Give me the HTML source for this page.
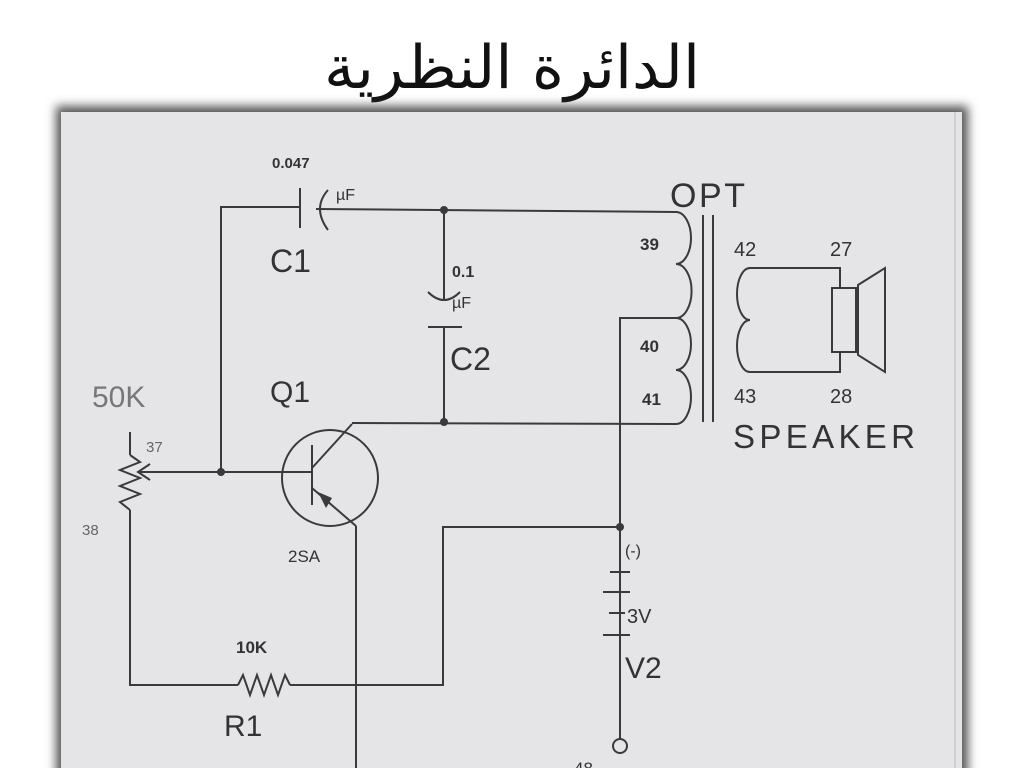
<!DOCTYPE html>
<html><head><meta charset="utf-8"><style>
html,body{margin:0;padding:0;background:#fff;width:1024px;height:768px;overflow:hidden}
</style></head><body>
<svg width="1024" height="768" viewBox="0 0 1024 768" xmlns="http://www.w3.org/2000/svg">
<defs>
<filter id="sh" x="-5%" y="-5%" width="110%" height="110%"><feGaussianBlur stdDeviation="5"/></filter>
</defs>
<text x="512" y="88" text-anchor="middle" font-family="DejaVu Sans, sans-serif" font-size="60" fill="#111" textLength="376" lengthAdjust="spacingAndGlyphs">الدائرة النظرية</text>
<rect x="56" y="106" width="912" height="680" fill="#555" filter="url(#sh)"/>
<rect x="61" y="112" width="901" height="660" fill="#e5e4e7"/>
<line x1="955" y1="112" x2="955" y2="768" stroke="#bbb" stroke-width="1"/>
<g fill="none" stroke="#3a3a3a" stroke-width="2">
<polyline points="221,470 221,207 300,207"/>
<line x1="300" y1="188" x2="300" y2="228"/>
<path d="M328,190 Q312,208 328,230"/>
<line x1="316" y1="209" x2="676" y2="212"/>
<line x1="444" y1="210" x2="444" y2="300"/>
<path d="M428,292 Q444,308 460,292"/>
<line x1="428" y1="327" x2="462" y2="327"/>
<line x1="444" y1="327" x2="444" y2="422"/>
<line x1="352" y1="423" x2="676" y2="424"/>
<path d="M676,212 A15,26 0 0 1 676,264 A15,26 0 0 1 676,318 A15,26 0 0 1 676,370 A15,27 0 0 1 676,424"/>
<line x1="703" y1="215" x2="703" y2="422"/>
<line x1="713" y1="215" x2="713" y2="422"/>
<polyline points="676,318 620,318 620,740"/>
<polyline points="620,527 443,527 443,685 290,685"/>
<polyline points="238,685 130,685 130,510"/>
<polyline points="238,685 243,675 250,695 257,675 264,695 271,675 278,695 285,675 290,685"/>
<line x1="130" y1="432" x2="130" y2="455"/>
<polyline points="130,455 140,462 120,470 140,478 120,486 140,494 120,502 130,510"/>
<line x1="138" y1="472" x2="312" y2="472"/>
<polyline points="150,464 138,472 150,480"/>
<circle cx="330" cy="478" r="48"/>
<line x1="312" y1="445" x2="312" y2="505"/>
<line x1="312" y1="468" x2="352" y2="424"/>
<line x1="312" y1="488" x2="356" y2="526"/>
<line x1="356" y1="526" x2="356" y2="768"/>
<line x1="610" y1="572" x2="630" y2="572"/>
<line x1="603" y1="592" x2="630" y2="592"/>
<line x1="609" y1="613" x2="625" y2="613"/>
<line x1="603" y1="635" x2="630" y2="635"/>
<path d="M750,268 A13,26 0 0 0 750,320 A13,26 0 0 0 750,372"/>
<polyline points="750,268 840,268 840,288"/>
<polyline points="750,372 840,372 840,352"/>
<rect x="832" y="288" width="24" height="64"/>
<polygon points="858,285 885,268 885,372 858,355"/>
</g>
<polygon points="318,492 332,498 326,508" fill="#3a3a3a"/>
<circle cx="620" cy="746" r="7" fill="#e5e4e7" stroke="#3a3a3a" stroke-width="2"/>
<g fill="#3a3a3a">
<circle cx="444" cy="210" r="4"/><circle cx="444" cy="422" r="4"/>
<circle cx="221" cy="472" r="4"/><circle cx="620" cy="527" r="4"/>
</g>
<g font-family="Liberation Sans, sans-serif" fill="#333">
<text x="670" y="207" font-size="34" textLength="75" lengthAdjust="spacing">OPT</text>
<text x="640" y="250" font-size="17" font-weight="bold">39</text>
<text x="640" y="352" font-size="17" font-weight="bold">40</text>
<text x="642" y="405" font-size="17" font-weight="bold">41</text>
<text x="734" y="256" font-size="20">42</text>
<text x="830" y="256" font-size="20">27</text>
<text x="734" y="403" font-size="20">43</text>
<text x="830" y="403" font-size="20">28</text>
<text x="733" y="448" font-size="33" textLength="182" lengthAdjust="spacing">SPEAKER</text>
<text x="272" y="168" font-size="15" font-weight="bold">0.047</text>
<text x="336" y="200" font-size="16">µF</text>
<text x="270" y="272" font-size="32">C1</text>
<text x="452" y="277" font-size="16" font-weight="bold">0.1</text>
<text x="452" y="308" font-size="16">µF</text>
<text x="450" y="370" font-size="32">C2</text>
<text x="270" y="402" font-size="30">Q1</text>
<text x="92" y="407" font-size="30" fill="#777">50K</text>
<text x="146" y="452" font-size="15" fill="#666">37</text>
<text x="82" y="535" font-size="15" fill="#666">38</text>
<text x="288" y="562" font-size="17">2SA</text>
<text x="236" y="653" font-size="17" font-weight="bold">10K</text>
<text x="224" y="736" font-size="30">R1</text>
<text x="625" y="556" font-size="16">(-)</text>
<text x="627" y="623" font-size="20">3V</text>
<text x="625" y="678" font-size="30">V2</text>
<text x="574" y="774" font-size="17">48</text>
</g>
</svg>
</body></html>
